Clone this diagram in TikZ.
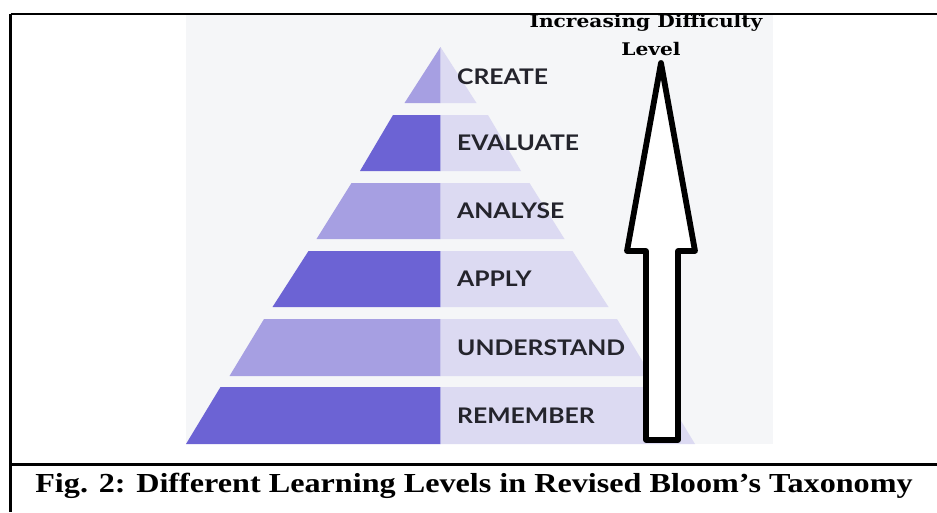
\documentclass[tikz,border=0pt]{standalone}
\usepackage{fontspec}
\setmainfont{Liberation Serif}
\newfontfamily\lblfont{Lato}
\newfontfamily\hdfont{DejaVu Serif}
\definecolor{panelc}{HTML}{F5F6F8}
\definecolor{darkp}{HTML}{6C63D4}
\definecolor{midp}{HTML}{A69FE2}
\definecolor{lightp}{HTML}{DCDAF2}
\definecolor{txtc}{HTML}{24242C}
\begin{document}
\begin{tikzpicture}[x=1pt,y=-1pt,
  lvl/.style={anchor=base west, inner sep=0pt, text=txtc,
    font=\lblfont\bfseries\fontsize{21.5}{24}\selectfont},
  hd/.style={anchor=base, inner sep=0pt, text=black,
    font=\hdfont\bfseries\fontsize{17.4}{20}\selectfont},
  capt/.style={anchor=base, inner sep=0pt, text=black,
    font=\bfseries\fontsize{27.5}{30}\selectfont},
  frame/.style={line width=2.2pt, black},
  bigarrow/.style={line width=5.8pt, black, fill=white, line join=round}
]
\useasboundingbox (0,0) rectangle (937,512);
\fill[white] (0,0) rectangle (937,512);
% picture panel
\fill[panelc] (186,15.2) rectangle (773,444);
% pyramid bands (left half, right half)
\fill[midp]   (440.5,47) -- (404.5,103) -- (440.5,103) -- cycle;
\fill[lightp] (440.5,47) -- (476.5,103) -- (440.5,103) -- cycle;
\fill[darkp]  (393,115) -- (360,171) -- (440.5,171) -- (440.5,115) -- cycle;
\fill[lightp] (488,115) -- (521,171) -- (440.5,171) -- (440.5,115) -- cycle;
\fill[midp]   (351.5,183) -- (316.5,239) -- (440.5,239) -- (440.5,183) -- cycle;
\fill[lightp] (529.5,183) -- (564.5,239) -- (440.5,239) -- (440.5,183) -- cycle;
\fill[darkp]  (308.5,251) -- (272.5,307) -- (440.5,307) -- (440.5,251) -- cycle;
\fill[lightp] (572.5,251) -- (608.5,307) -- (440.5,307) -- (440.5,251) -- cycle;
\fill[midp]   (264,319) -- (229.5,376) -- (440.5,376) -- (440.5,319) -- cycle;
\fill[lightp] (617,319) -- (651.5,376) -- (440.5,376) -- (440.5,319) -- cycle;
\fill[darkp]  (220.5,387) -- (186,444) -- (440.5,444) -- (440.5,387) -- cycle;
\fill[lightp] (660.5,387) -- (695,444) -- (440.5,444) -- (440.5,387) -- cycle;
% level labels
\node[lvl] (create)     at (457,84)    {\scalebox{1.15}[1]{CREATE}};
\node[lvl] (evaluate)   at (457,150.7) {\scalebox{1.15}[1]{EVALUATE}};
\node[lvl] (analyse)    at (457,218.5) {\scalebox{1.15}[1]{ANALYSE}};
\node[lvl] (apply)      at (457,286)   {\scalebox{1.15}[1]{APPLY}};
\node[lvl] (understand) at (457,355)   {\scalebox{1.15}[1]{UNDERSTAND}};
\node[lvl] (remember)   at (457,423)   {\scalebox{1.15}[1]{REMEMBER}};
% block arrow
\draw[bigarrow] (646,440) -- (646,251) -- (627,251) -- (661,63)
  -- (695,251) -- (678,251) -- (678,440) -- cycle;
% heading
\node[hd] (hd1) at (646,27.5) {\scalebox{1.16}[1]{Increasing Difficulty}};
\node[hd] (hd2) at (651,55) {\scalebox{1.16}[1]{Level}};
% table frame
\draw[frame] (10.5,14) -- (937,14);
\draw[frame] (10.5,14) -- (10.5,512);
\draw[frame] (10.5,464.5) -- (937,464.5);
% caption
\node[capt] (caption) at (474,492)
  {\scalebox{1.17}[1]{Fig. 2: Different Learning Levels in Revised Bloom’s Taxonomy}};
\end{tikzpicture}
\end{document}
